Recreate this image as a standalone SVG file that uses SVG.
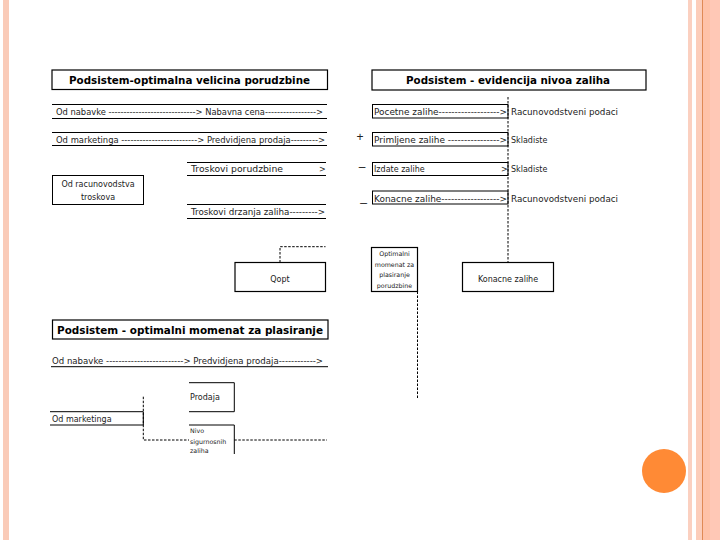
<svg xmlns="http://www.w3.org/2000/svg" width="720" height="540" viewBox="0 0 720 540">
<style>
.t{font-family:"DejaVu Sans","Liberation Sans",sans-serif;font-size:8px;fill:#222}
.s{font-family:"DejaVu Sans","Liberation Sans",sans-serif;font-size:6.3px;fill:#222}
.h{font-family:"DejaVu Sans","Liberation Sans",sans-serif;font-weight:bold;font-size:11px;fill:#000}
.b{fill:none;stroke:#000;stroke-width:1.2}
.l{fill:none;stroke:#000;stroke-width:1}
.d{fill:none;stroke:#000;stroke-width:1;stroke-dasharray:2.5 1.5}
.sg{font-family:"Liberation Sans",Arial,sans-serif;font-size:12px;fill:#222}
</style>
<rect width="720" height="540" fill="#fff"/>
<g id="decor">
<rect x="3" y="0" width="6" height="540" fill="#FACBB8"/>
<rect x="688" y="0" width="4" height="540" fill="#FBD0C0"/>
<rect x="696" y="0" width="6" height="540" fill="#FCCDBA"/>
<rect x="703" y="0" width="7" height="540" fill="#FFC2A8"/>
<rect x="710" y="0" width="10" height="540" fill="#FFC8B6"/>
<line x1="702.5" y1="0" x2="702.5" y2="540" stroke="#E08A55" stroke-width="1"/>
<circle cx="664" cy="471" r="22" fill="#FF8A35"/>
</g>

<g id="title-tl">
<rect class="b" x="52" y="70" width="275.5" height="19.5"/>
<text class="h" x="69" y="84" textLength="241" lengthAdjust="spacingAndGlyphs">Podsistem-optimalna velicina porudzbine</text>
</g>
<g id="row-tl1">
<path class="l" d="M52 104.5H327M52 118.5H327"/>
<text class="t" x="56" y="115" textLength="267" lengthAdjust="spacingAndGlyphs">Od nabavke -----------------------------&gt; Nabavna cena-----------------&gt;</text>
</g>
<g id="row-tl2">
<path class="l" d="M52 132.5H327M52 145.5H327"/>
<text class="t" x="56" y="143" textLength="269" lengthAdjust="spacingAndGlyphs">Od marketinga -------------------------&gt; Predvidjena prodaja---------&gt;</text>
</g>
<g id="row-tl3">
<path class="l" d="M187 162.5H326M187 175.5H326"/>
<text class="t" x="191" y="172" textLength="92" lengthAdjust="spacingAndGlyphs">Troskovi porudzbine</text>
<text class="t" x="319" y="172">&gt;</text>
</g>
<g id="node-racun">
<rect class="l" x="52.5" y="175.5" width="91" height="29"/>
<text class="t" x="98" y="187" text-anchor="middle">Od racunovodstva</text>
<text class="t" x="98" y="200" text-anchor="middle">troskova</text>
</g>
<g id="row-tl4">
<path class="l" d="M187 204.5H326M187 218.5H326"/>
<text class="t" x="191" y="215" textLength="134" lengthAdjust="spacingAndGlyphs">Troskovi drzanja zaliha---------&gt;</text>
</g>
<g id="node-qopt">
<rect class="b" x="235" y="262.5" width="90.5" height="29"/>
<text class="t" x="280" y="282" text-anchor="middle">Qopt</text>
</g>

<g id="title-tr">
<rect class="b" x="372" y="70" width="274" height="20"/>
<text class="h" x="406" y="84" textLength="204" lengthAdjust="spacingAndGlyphs">Podsistem - evidencija nivoa zaliha</text>
</g>
<g id="row-tr1">
<rect class="l" x="372.5" y="104.5" width="135.5" height="13.5"/>
<text class="t" x="374" y="114.5" textLength="133" lengthAdjust="spacingAndGlyphs">Pocetne zalihe-------------------&gt;</text>
<text class="t" x="511" y="114.5" textLength="107" lengthAdjust="spacingAndGlyphs">Racunovodstveni podaci</text>
</g>
<g id="row-tr2">
<text class="sg" x="360" y="141" text-anchor="middle">+</text>
<rect class="l" x="372.5" y="132.5" width="135.5" height="13.5"/>
<text class="t" x="374" y="143" textLength="133" lengthAdjust="spacingAndGlyphs">Primljene zalihe ----------------&gt;</text>
<text class="t" x="511" y="143">Skladiste</text>
</g>
<g id="row-tr3">
<text class="sg" x="362" y="171" text-anchor="middle">–</text>
<rect class="l" x="372.5" y="162.5" width="135.5" height="13"/>
<text class="t" x="374" y="172">Izdate zalihe</text>
<text class="t" x="501" y="172">&gt;</text>
<text class="t" x="511" y="172">Skladiste</text>
</g>
<g id="row-tr4">
<text class="sg" x="363.5" y="201" text-anchor="middle">_</text>
<rect class="l" x="372.5" y="191" width="135.5" height="13"/>
<text class="t" x="374" y="201.5" textLength="133" lengthAdjust="spacingAndGlyphs">Konacne zalihe------------------&gt;</text>
<text class="t" x="511" y="201.5" textLength="107" lengthAdjust="spacingAndGlyphs">Racunovodstveni podaci</text>
</g>
<g id="node-optimalni">
<rect class="b" x="371.5" y="247.5" width="46" height="44"/>
<text class="s" x="394.5" y="256" text-anchor="middle">Optimalni</text>
<text class="s" x="394.5" y="266.5" text-anchor="middle">momenat za</text>
<text class="s" x="394.5" y="277" text-anchor="middle">plasiranje</text>
<text class="s" x="394.5" y="287.5" text-anchor="middle">porudzbine</text>
</g>
<g id="node-konacne">
<rect class="b" x="462.5" y="262.5" width="91" height="29"/>
<text class="t" x="508" y="282" text-anchor="middle">Konacne zalihe</text>
</g>

<g id="title-bl">
<rect class="b" x="52.5" y="320" width="275.5" height="19"/>
<text class="h" x="57" y="334" font-size="12.5" textLength="266" lengthAdjust="spacingAndGlyphs">Podsistem - optimalni momenat za plasiranje</text>
</g>
<g id="row-bl1">
<path class="l" d="M51 366.7H328"/>
<text class="t" x="52" y="363.5" textLength="271" lengthAdjust="spacingAndGlyphs">Od nabavke -------------------------&gt; Predvidjena prodaja------------&gt;</text>
</g>
<g id="node-prodaja">
<path class="l" d="M189 382.7H234.3V411.7H189"/>
<text class="t" x="190" y="400">Prodaja</text>
</g>
<g id="row-marketing">
<path class="l" d="M50 411.7H143.3V425H50"/>
<text class="t" x="52" y="422">Od marketinga</text>
</g>
<g id="node-nivo">
<path class="l" d="M189 425H234.3V454"/>
<text class="s" x="190" y="432.5">Nivo</text>
<text class="s" x="190" y="443.5">sigurnosnih</text>
<text class="s" x="190" y="453">zaliha</text>
</g>

<g id="connectors">
<path class="d" d="M280 262.5V246.7H325.5"/>
<path class="d" d="M508 97V262"/>
<path class="d" d="M417.5 291.5V398"/>
<path class="d" d="M143.3 396.7V440H189"/>
<path class="d" d="M234.3 440H327"/>
</g>
</svg>
